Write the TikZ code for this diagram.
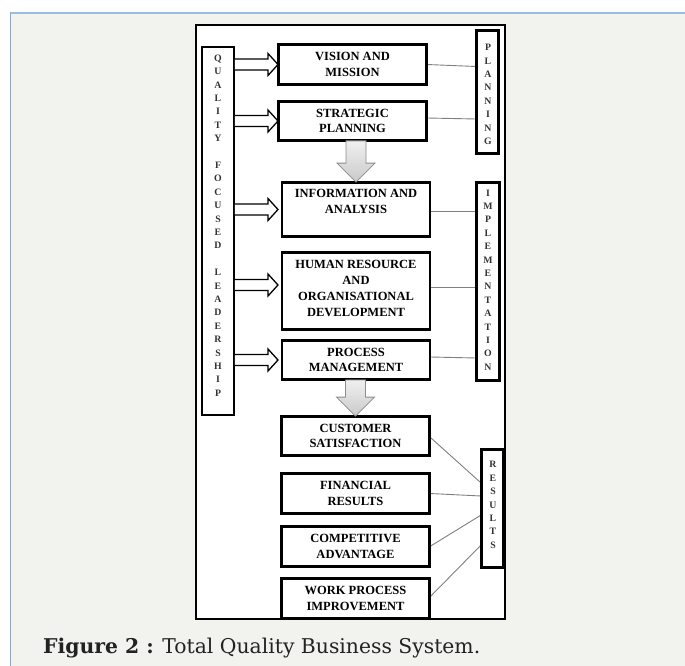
\documentclass[tikz,border=0pt]{standalone}
\usepackage{fontspec}
\usepackage{graphicx}
\setmainfont{Liberation Serif}
\newfontfamily\capfont{DejaVu Serif}
\usetikzlibrary{calc}

\definecolor{pagebg}{HTML}{F2F2EE}
\definecolor{rulebl}{HTML}{9DBCE0}
\definecolor{rulebl2}{HTML}{7FA8E6}
\definecolor{linkgray}{HTML}{808080}
\definecolor{captxt}{HTML}{222222}
\definecolor{funnelrim}{HTML}{8C8C8C}
\definecolor{lettergray}{HTML}{333333}

\tikzset{
  blk/.style={draw=black, line width=1.8pt, fill=white, minimum width=147pt, inner sep=0pt},
  btxt/.style={align=center, inner sep=0pt, font=\bfseries\fontsize{12.5}{15.8}\selectfont},
  tall/.style={draw=black, line width=1.8pt, fill=white, inner sep=0pt},
  vtxt/.style={align=center, inner sep=0pt, text=lettergray, font=\bfseries\fontsize{9.8}{13.4}\selectfont},
  link/.style={draw=linkgray, line width=0.9pt},
  hollow/.style={draw=black, line width=1.3pt, fill=white, line join=miter},
  funnel/.style={draw=funnelrim, line width=0.8pt, top color=gray!12, bottom color=gray!42},
}

% open block arrow: shaft from #1 (x only) to the tip #2
\newcommand\hollowarrow[2]{%
  \draw[hollow] let \p1=(#1), \p2=(#2) in
    (\x1,\y2+5.5) -- (\x2-10,\y2+5.5) -- (\x2-10,\y2+11) -- (\x2,\y2)
    -- (\x2-10,\y2-11) -- (\x2-10,\y2-5.5) -- (\x1,\y2-5.5);}

% shaded down arrow: from the bottom #1 of one box to the top #2 of the next
\newcommand\stagearrow[2]{%
  \shade[funnel] let \p1=(#1), \p2=(#2) in
    (\x2-10,\y1) -- (\x2-10,\y2+19) -- (\x2-19,\y2+19) -- (\x2,\y2)
    -- (\x2+19,\y2+19) -- (\x2+10,\y2+19) -- (\x2+10,\y1) -- cycle;}

\begin{document}
\begin{tikzpicture}[x=1pt, y=-1pt]
  \useasboundingbox (0,0) rectangle (685,666);

  % page background and rules
  \fill[white] (0,0) rectangle (685,666);
  \fill[pagebg] (10,13) rectangle (685,666);
  \draw[rulebl, line width=2pt] (10,13) -- (685,13);
  \draw[rulebl2, line width=1.2pt] (10.5,13) -- (10.5,666);

  % frame of the figure
  \node[draw=black, line width=1.4pt, fill=white, inner sep=0pt,
        minimum width=309pt, minimum height=594pt] (frame) at (350.5,322) {};

  % main chain of boxes
  \node[blk, minimum height=39pt] (vm)   at (352.5,64.5) {};
  \node[blk, minimum height=38pt] (sp)   at (352.5,121)  {};
  \node[blk, minimum height=53pt] (info) at (356,209.5)  {};
  \node[blk, minimum height=76pt] (hr)   at (356,291)    {};
  \node[blk, minimum height=38pt] (pm)   at (356,360)    {};
  \node[blk, minimum height=38pt] (cs)   at (355.5,436)  {};
  \node[blk, minimum height=39pt] (fr)   at (355.5,493.5){};
  \node[blk, minimum height=39pt] (ca)   at (355.5,546.5){};
  \node[blk, minimum height=39pt] (wp)   at (355.5,598.5){};

  % side columns
  \node[tall, minimum width=32pt, minimum height=368pt] (qfl)  at (218,231)    {};
  \node[tall, minimum width=21pt, minimum height=122pt] (plan) at (487.5,92)   {};
  \node[tall, minimum width=22pt, minimum height=197pt] (impl) at (488,281.5)  {};
  \node[tall, minimum width=21pt, minimum height=117pt] (res)  at (492.5,508.5){};

  % links from boxes to the stage columns
  \draw[link] (vm.east)   -- ($(plan.west |- vm.east)+(0,2)$);
  \draw[link] ($(sp.east)+(0,-3)$) -- ($(plan.west |- sp.east)+(0,-2)$);
  \draw[link] ($(info.east)+(0,1.5)$) -- ($(impl.west |- info.east)+(0,1.5)$);
  \draw[link] ($(hr.east)+(0,-4)$) -- ($(impl.west |- hr.east)+(0,-4)$);
  \draw[link] ($(pm.east)+(0,-3)$) -- ($(impl.west |- pm.east)+(0,-2)$);
  \draw[link] ($(cs.east)+(0,1)$) -- ($(res.west)+(0,-25.5)$);
  \draw[link] (fr.east) -- ($(res.west)+(0,-12.5)$);
  \draw[link] (ca.east) -- ($(res.west)+(0,6.5)$);
  \draw[link] ($(wp.east)+(0,-1.5)$) -- ($(res.west)+(0,36.5)$);

  % redraw the box outlines over the link ends
  \foreach \b in {vm,sp,info,hr,pm,cs,fr,ca,wp}
    \draw[black, line width=1.8pt] (\b.north west) rectangle (\b.south east);
  \foreach \b in {plan,impl,res}
    \draw[black, line width=1.8pt] (\b.north west) rectangle (\b.south east);

  % box texts
  \node[btxt] (vmt)   at (vm.center)   {VISION AND\\MISSION};
  \node[btxt] (spt)   at (sp.center)   {STRATEGIC\\PLANNING};
  \node[btxt] (infot) at ($(info.center)+(0,-7.7)$) {INFORMATION AND\\ANALYSIS};
  \node[btxt] (hrt)   at ($(hr.center)+(0,-2.7)$)   {HUMAN RESOURCE\\AND\\ORGANISATIONAL\\DEVELOPMENT};
  \node[btxt] (pmt)   at (pm.center)   {PROCESS\\MANAGEMENT};
  \node[btxt] (cst)   at (cs.center)   {CUSTOMER\\SATISFACTION};
  \node[btxt] (frt)   at (fr.center)   {FINANCIAL\\RESULTS};
  \node[btxt] (cat)   at (ca.center)   {COMPETITIVE\\ADVANTAGE};
  \node[btxt] (wpt)   at (wp.center)   {WORK PROCESS\\IMPROVEMENT};

  % vertical column texts
  \node[vtxt] (qflt) at ($(qfl.center)+(0,-5.5)$)
    {Q\\U\\A\\L\\I\\T\\Y\\[13.4pt]F\\O\\C\\U\\S\\E\\D\\[13.4pt]L\\E\\A\\D\\E\\R\\S\\H\\I\\P};
  \node[vtxt] (plant) at ($(plan.center)+(0.5,2.5)$) {P\\L\\A\\N\\N\\I\\N\\G};
  \node[vtxt] (implt) at ($(impl.center)+(0,-1.5)$)
    {I\\M\\P\\L\\E\\M\\E\\N\\T\\A\\T\\I\\O\\N};
  \node[vtxt] (rest) at ($(res.center)+(0.5,-3.5)$) {R\\E\\S\\U\\L\\T\\S};

  % leadership arrows into the boxes
  \hollowarrow{qfl.east}{278,0 |- vm.west}
  \hollowarrow{qfl.east}{278,0 |- sp.west}
  \hollowarrow{qfl.east}{278,0 |- info.west}
  \hollowarrow{qfl.east}{$(278,0 |- hr.west)+(0,-6)$}
  \hollowarrow{qfl.east}{278,0 |- pm.west}

  % flow arrows between the stages
  \stagearrow{sp.south}{info.north}
  \stagearrow{pm.south}{cs.north}

  % caption
  \node[anchor=base west, inner sep=0pt, text=captxt] (cap) at (43,653)
    {\resizebox{437pt}{!}{\capfont\fontsize{17}{20}\selectfont\textbf{Figure 2 :} Total Quality Business System.}};
\end{tikzpicture}
\end{document}
